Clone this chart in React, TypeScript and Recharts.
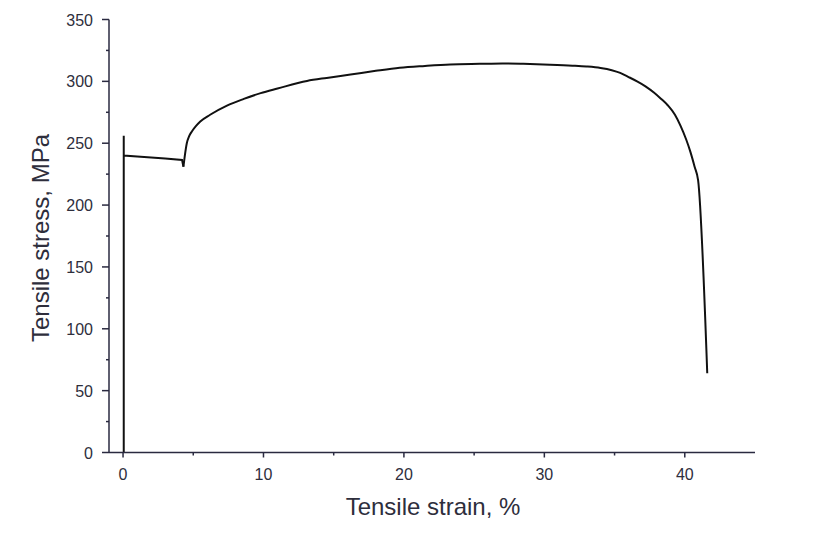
import React from "react";
import { LineChart, Line, XAxis, YAxis } from "recharts";

// Elastic part and yield plateau (drawn with straight segments)
const yieldStrain = [0.05, 0.05, 0.05, 1, 2, 3, 4.2, 4.3];
const yieldStress = [0, 256, 240, 239.3, 238.5, 237.6, 236.5, 231];

// Strain hardening, necking and fracture (smooth curve)
const hardStrain = [
  4.3, 4.4, 4.54, 4.7, 4.9, 5.2, 5.5, 6.2, 7.4, 8.6, 9.8, 11, 13.1, 14.5, 16.2,
  18, 19.7, 21.5, 23.3, 25.4, 27, 28.5, 30.4, 32, 33, 34, 34.8, 35.4, 36, 36.6,
  37.2, 37.8, 38.3, 38.8, 39.3, 39.7, 40.1, 40.4, 40.7, 40.95, 41.6,
];
const hardStress = [
  231, 240, 250, 255.5, 259.5, 264, 267.6, 273, 280.4, 285.8, 290.5, 294.2,
  300.3, 302.8, 305.5, 308.5, 311, 312.5, 313.7, 314.2, 314.5, 314.2, 313.5,
  312.7, 312, 310.8, 309, 306.8, 303.5, 300, 296, 291, 286, 280.5, 273, 264,
  253, 243, 231, 220, 64,
];

const xTicks = [0, 5, 10, 15, 20, 25, 30, 35, 40];
const xMajor = [0, 10, 20, 30, 40];
const yTicks = [0, 25, 50, 75, 100, 125, 150, 175, 200, 225, 250, 275, 300, 325, 350];
const yMajor = [0, 50, 100, 150, 200, 250, 300, 350];

const yieldData = yieldStrain.map((s, i) => ({ strain: s, stress: yieldStress[i] }));
const hardData = hardStrain.map((s, i) => ({ strain: s, stress: hardStress[i] }));

const AXIS = "#2a2a40";
const TEXT = "#2e2e3c";
const FONT = "'Liberation Sans', Arial, sans-serif";

const XTick = (props: any) => {
  const { x, y, payload } = props;
  const major = xMajor.includes(payload.value);
  return (
    <g>
      <line x1={x} x2={x} y1={y} y2={y + (major ? 5 : 3)} stroke={AXIS} strokeWidth={1.5} />
      {major && (
        <text x={x} y={y + 27.5} textAnchor="middle" fontSize={16} fill={TEXT} fontFamily={FONT}>
          {payload.value}
        </text>
      )}
    </g>
  );
};

const YTick = (props: any) => {
  const { x, y, payload } = props;
  const major = yMajor.includes(payload.value);
  return (
    <g>
      <line x1={x - (major ? 7 : 3)} x2={x} y1={y} y2={y} stroke={AXIS} strokeWidth={1.5} />
      {major && (
        <text x={x - 16} y={y + 6} textAnchor="end" fontSize={16} fill={TEXT} fontFamily={FONT}>
          {payload.value}
        </text>
      )}
    </g>
  );
};

export default function App() {
  return (
    <div style={{ position: "relative", width: 810, height: 530, background: "#fff" }}>
      <LineChart
        width={810}
        height={530}
        margin={{ top: 11.5, right: 63, left: 41, bottom: 35.5 }}
      >
        <XAxis
          dataKey="strain"
          type="number"
          domain={[-1, 45]}
          ticks={xTicks}
          interval={0}
          tickSize={0}
          tickMargin={0}
          tick={<XTick />}
          height={50}
          axisLine={{ stroke: AXIS, strokeWidth: 1.5 }}
          allowDataOverflow
        />
        <YAxis
          type="number"
          domain={[0, 350]}
          ticks={yTicks}
          interval={0}
          tickSize={0}
          tickMargin={0}
          tick={<YTick />}
          width={60}
          axisLine={{ stroke: AXIS, strokeWidth: 1.5 }}
          allowDataOverflow
        />
        <Line
          data={yieldData}
          dataKey="stress"
          type="linear"
          stroke="#111"
          strokeWidth={2}
          dot={false}
          activeDot={false}
          isAnimationActive={false}
        />
        <Line
          data={hardData}
          dataKey="stress"
          type="monotoneX"
          stroke="#111"
          strokeWidth={2}
          dot={false}
          activeDot={false}
          isAnimationActive={false}
        />
      </LineChart>
      <svg
        width={826}
        height={546}
        style={{ position: "absolute", left: -8, top: -8, pointerEvents: "none" }}
      >
        <text x={433} y={515} textAnchor="middle" fontSize={24} fill={TEXT} fontFamily={FONT}>
          Tensile strain, %
        </text>
        <text
          x={49}
          y={238}
          textAnchor="middle"
          fontSize={24}
          fill={TEXT}
          fontFamily={FONT}
          transform="rotate(-90 49 238)"
        >
          Tensile stress, MPa
        </text>
      </svg>
    </div>
  );
}
